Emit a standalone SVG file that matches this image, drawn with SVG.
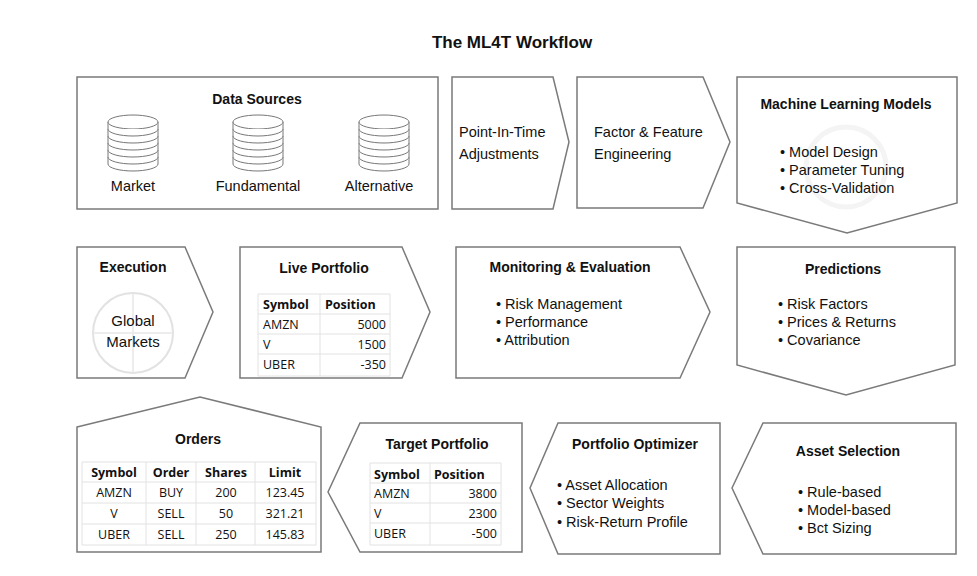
<svg xmlns="http://www.w3.org/2000/svg" width="977" height="576" viewBox="0 0 977 576">
<style>
.box{fill:#fff;stroke:#7a7a7a;stroke-width:1.5}
.t{font-family:"Liberation Sans",Arial,sans-serif;font-weight:bold;font-size:14px;fill:#111;text-anchor:middle}
.l{font-family:"Liberation Sans",Arial,sans-serif;font-size:14.5px;fill:#111}
.c{text-anchor:middle}
.tb{font-family:"Open Sans","Liberation Sans",sans-serif;font-size:12.5px;fill:#111}
.th{font-weight:bold}
.r{text-anchor:end}
.grid{stroke:#e2e2e2;stroke-width:1;fill:none}
.cyl{fill:#fff;stroke:#777;stroke-width:1}
</style>
<defs>
<g id="cyl">
<path class="cyl" d="M-25,0 V42 A25,7 0 0 0 25,42 V0"/>
<ellipse class="cyl" cx="0" cy="0" rx="25" ry="7"/>
<path class="cyl" d="M-25,7 A25,7 0 0 0 25,7 M-25,14 A25,7 0 0 0 25,14 M-25,21 A25,7 0 0 0 25,21 M-25,28 A25,7 0 0 0 25,28 M-25,35 A25,7 0 0 0 25,35"/>
</g>
</defs>
<rect width="977" height="576" fill="#fff"/>
<text x="512" y="48" class="t" style="font-size:17px">The ML4T Workflow</text>

<g id="data-sources">
<rect class="box" x="77" y="77" width="361" height="132"/>
<text x="257" y="104" class="t">Data Sources</text>
<use href="#cyl" x="133" y="122"/>
<use href="#cyl" x="258" y="122"/>
<use href="#cyl" x="384" y="122"/>
<text x="133" y="191" class="l c">Market</text>
<text x="258" y="191" class="l c">Fundamental</text>
<text x="379" y="191" class="l c">Alternative</text>
</g>

<g id="point-in-time">
<path class="box" d="M452,77 H553 L569,142 L553,209 H452 Z"/>
<text x="459" y="137" class="l">Point-In-Time</text>
<text x="459" y="159" class="l">Adjustments</text>
</g>

<g id="factor-feature">
<path class="box" d="M577,77 H703 L730,142 L703,208 H577 Z"/>
<text x="594" y="137" class="l">Factor &amp; Feature</text>
<text x="594" y="159" class="l">Engineering</text>
</g>

<g id="ml-models">
<path class="box" d="M737,77 H957 V203 L847,233 L737,203 Z"/>
<text x="846" y="109" class="t">Machine Learning Models</text>
<circle cx="846" cy="167" r="40" fill="none" stroke="#f4f4f4" stroke-width="5"/>
<text x="780" y="157" class="l">• Model Design</text>
<text x="780" y="175" class="l">• Parameter Tuning</text>
<text x="780" y="193" class="l">• Cross-Validation</text>
</g>

<g id="execution">
<path class="box" d="M77,247 H185 L213,312 L185,378 H77 Z"/>
<text x="133" y="272" class="t">Execution</text>
<circle cx="133" cy="333" r="40" fill="none" stroke="#e2e2e2" stroke-width="2"/>
<path d="M133,293 V373 M93,333 H173" stroke="#e8e8e8" stroke-width="1.5" fill="none"/>
<text x="133" y="326" class="l c" style="font-size:15px">Global</text>
<text x="133" y="347" class="l c" style="font-size:15px">Markets</text>
</g>

<g id="live-portfolio">
<path class="box" d="M240,247 H402 L430,312 L402,378 H240 Z"/>
<text x="324" y="273" class="t">Live Portfolio</text>
<path class="grid" d="M258,294 H390 V376 H258 Z M258,314 H390 M258,334 H390 M258,354 H390 M320,294 V376"/>
<text x="263" y="309" class="tb th">Symbol</text>
<text x="325" y="309" class="tb th">Position</text>
<text x="263" y="329" class="tb">AMZN</text><text x="386" y="329" class="tb r">5000</text>
<text x="263" y="349" class="tb">V</text><text x="386" y="349" class="tb r">1500</text>
<text x="263" y="369" class="tb">UBER</text><text x="386" y="369" class="tb r">-350</text>
</g>

<g id="monitoring">
<path class="box" d="M456,247 H680 L710,312 L680,378 H456 Z"/>
<text x="570" y="272" class="t">Monitoring &amp; Evaluation</text>
<text x="496" y="309" class="l">• Risk Management</text>
<text x="496" y="327" class="l">• Performance</text>
<text x="496" y="345" class="l">• Attribution</text>
</g>

<g id="predictions">
<path class="box" d="M737,247 H955 V365 L846,395 L737,365 Z"/>
<text x="843" y="274" class="t">Predictions</text>
<text x="778" y="309" class="l">• Risk Factors</text>
<text x="778" y="327" class="l">• Prices &amp; Returns</text>
<text x="778" y="345" class="l">• Covariance</text>
</g>

<g id="orders">
<path class="box" d="M77,427 L200,397 L321,427 V552 H77 Z"/>
<text x="198" y="444" class="t">Orders</text>
<path class="grid" d="M82,462 H316 V545 H82 Z M82,482 H316 M82,503 H316 M82,524 H316 M146,462 V545 M196,462 V545 M255,462 V545"/>
<text x="114" y="477" class="tb th c">Symbol</text>
<text x="171" y="477" class="tb th c">Order</text>
<text x="226" y="477" class="tb th c">Shares</text>
<text x="285" y="477" class="tb th c">Limit</text>
<text x="114" y="497" class="tb c">AMZN</text><text x="171" y="497" class="tb c">BUY</text><text x="226" y="497" class="tb c">200</text><text x="285" y="497" class="tb c">123.45</text>
<text x="114" y="518" class="tb c">V</text><text x="171" y="518" class="tb c">SELL</text><text x="226" y="518" class="tb c">50</text><text x="285" y="518" class="tb c">321.21</text>
<text x="114" y="539" class="tb c">UBER</text><text x="171" y="539" class="tb c">SELL</text><text x="226" y="539" class="tb c">250</text><text x="285" y="539" class="tb c">145.83</text>
</g>

<g id="target-portfolio">
<path class="box" d="M360,423 H522 V552 H360 L328,492 Z"/>
<text x="437" y="449" class="t">Target Portfolio</text>
<path class="grid" d="M370,463 H501 V545 H370 Z M370,483 H501 M370,503 H501 M370,523 H501 M430,463 V545"/>
<text x="374" y="479" class="tb th">Symbol</text>
<text x="434" y="479" class="tb th">Position</text>
<text x="374" y="498" class="tb">AMZN</text><text x="497" y="498" class="tb r">3800</text>
<text x="374" y="518" class="tb">V</text><text x="497" y="518" class="tb r">2300</text>
<text x="374" y="538" class="tb">UBER</text><text x="497" y="538" class="tb r">-500</text>
</g>

<g id="portfolio-optimizer">
<path class="box" d="M558,423 H720 V554 H558 L530,488 Z"/>
<text x="635" y="449" class="t">Portfolio Optimizer</text>
<text x="557" y="490" class="l">• Asset Allocation</text>
<text x="557" y="508" class="l">• Sector Weights</text>
<text x="557" y="527" class="l">• Risk-Return Profile</text>
</g>

<g id="asset-selection">
<path class="box" d="M763,423 H956 V554 H763 L732,488 Z"/>
<text x="848" y="456" class="t">Asset Selection</text>
<text x="798" y="497" class="l">• Rule-based</text>
<text x="798" y="515" class="l">• Model-based</text>
<text x="798" y="533" class="l">• Bct Sizing</text>
</g>

<g id="connectors"></g>
</svg>
